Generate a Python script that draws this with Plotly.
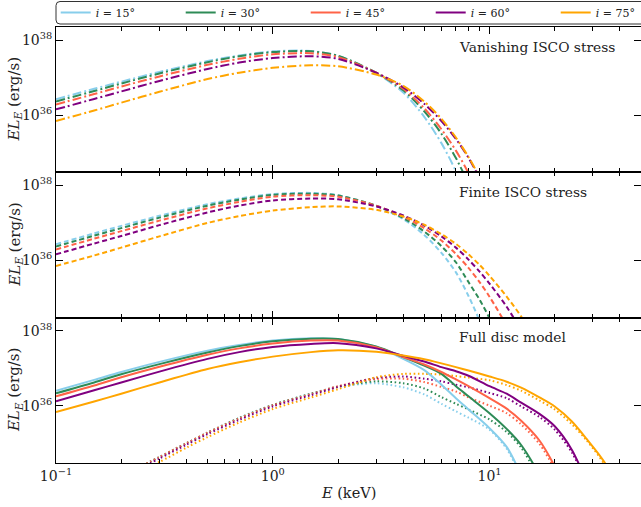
import numpy as np
import plotly.graph_objects as go
from plotly.subplots import make_subplots

# ---------------------------------------------------------------------------
# Data: log10(E L_E / erg s^-1) versus photon energy E (keV)
# ---------------------------------------------------------------------------
inclinations = [15, 30, 45, 60, 75]
colors = ["#87CEEB", "#2E8B57", "#FF6347", "#800080", "#FFA500"]

# Panel 1: vanishing ISCO stress
energy_vanishing = [0.1, 0.15, 0.2, 0.3, 0.5, 0.7, 1.0, 1.5, 2.0, 3.0, 4.0, 5.0, 6.0, 7.0, 8.0, 9.0]
vanishing_i15 = [36.42, 36.70, 36.89, 37.15, 37.44, 37.59, 37.70, 37.71, 37.58, 37.12, 36.60, 35.95, 35.25, 34.50, 33.70, None]
vanishing_i30 = [36.36, 36.64, 36.84, 37.11, 37.41, 37.57, 37.68, 37.70, 37.58, 37.13, 36.66, 36.10, 35.50, 34.85, 34.17, None]
vanishing_i45 = [36.28, 36.56, 36.76, 37.03, 37.34, 37.50, 37.62, 37.65, 37.55, 37.13, 36.70, 36.18, 35.62, 35.05, 34.45, 33.80]
vanishing_i60 = [36.15, 36.43, 36.63, 36.91, 37.23, 37.40, 37.52, 37.57, 37.50, 37.13, 36.74, 36.30, 35.84, 35.36, 34.86, 34.32]
vanishing_i75 = [35.84, 36.12, 36.33, 36.62, 36.96, 37.13, 37.26, 37.33, 37.30, 37.08, 36.78, 36.36, 35.90, 35.40, 34.88, 34.35]

# Panel 2: finite ISCO stress
energy_finite = [0.1, 0.15, 0.2, 0.3, 0.5, 0.7, 1.0, 1.5, 2.0, 3.0, 4.0, 5.0, 6.0, 7.0, 8.0, 9.0, 10.0, 12.0, 14.0, 16.0]
finite_i15 = [36.43, 36.72, 36.92, 37.19, 37.50, 37.65, 37.77, 37.80, 37.74, 37.45, 37.10, 36.68, 36.20, 35.68, 35.05, 34.38, 33.60, None, None, None]
finite_i30 = [36.37, 36.66, 36.86, 37.14, 37.46, 37.62, 37.75, 37.78, 37.73, 37.46, 37.13, 36.77, 36.38, 35.95, 35.42, 34.95, 34.45, 33.30, None, None]
finite_i45 = [36.29, 36.58, 36.78, 37.06, 37.39, 37.56, 37.70, 37.74, 37.70, 37.46, 37.17, 36.86, 36.53, 36.17, 35.80, 35.42, 35.03, 34.25, 33.40, None]
finite_i60 = [36.16, 36.45, 36.65, 36.94, 37.28, 37.46, 37.60, 37.65, 37.63, 37.44, 37.20, 36.93, 36.64, 36.34, 36.02, 35.70, 35.38, 34.76, 34.12, 33.40]
finite_i75 = [35.85, 36.13, 36.34, 36.64, 37.00, 37.18, 37.33, 37.42, 37.44, 37.35, 37.17, 36.95, 36.70, 36.44, 36.16, 35.88, 35.59, 35.03, 34.50, 33.90]

# Panel 3: full disc model (solid) and plunging-region contribution (dotted)
energy_full = [0.1, 0.15, 0.2, 0.3, 0.5, 0.7, 1.0, 1.5, 2.0, 3.0, 4.0, 5.0, 6.0, 7.0, 8.0, 10.0, 12.0, 14.0, 17.0, 20.0, 24.0, 28.0, 34.0, 40.0]
full_i15 = [36.40, 36.69, 36.90, 37.17, 37.47, 37.62, 37.74, 37.80, 37.78, 37.57, 37.25, 36.95, 36.56, 36.20, 35.90, 35.40, 34.90, 34.15, None, None, None, None, None, None]
full_i30 = [36.33, 36.62, 36.84, 37.11, 37.42, 37.59, 37.72, 37.79, 37.78, 37.58, 37.30, 37.07, 36.85, 36.52, 36.25, 35.80, 35.38, 34.95, 34.15, 33.30, None, None, None, None]
full_i45 = [36.25, 36.54, 36.76, 37.04, 37.36, 37.53, 37.66, 37.74, 37.74, 37.56, 37.30, 37.10, 36.90, 36.70, 36.52, 36.20, 35.92, 35.60, 35.07, 34.38, 33.40, None, None, None]
full_i60 = [36.12, 36.41, 36.62, 36.91, 37.25, 37.43, 37.57, 37.65, 37.67, 37.53, 37.33, 37.18, 37.03, 36.92, 36.80, 36.52, 36.32, 36.08, 35.78, 35.45, 34.82, 33.98, None, None]
full_i75 = [35.83, 36.11, 36.32, 36.62, 36.98, 37.16, 37.31, 37.43, 37.48, 37.44, 37.34, 37.24, 37.13, 37.03, 36.94, 36.78, 36.64, 36.48, 36.22, 35.98, 35.58, 35.12, 34.48, 33.60]

energy_plunge = [0.25, 0.3, 0.4, 0.5, 0.7, 1.0, 1.5, 2.0, 2.5, 3.0, 4.0, 5.0, 6.0, 7.0, 8.0, 10.0, 12.0, 14.0, 17.0, 20.0, 24.0, 28.0, 34.0, 40.0]
plunge_i15 = [34.40, 34.63, 35.00, 35.28, 35.67, 36.02, 36.32, 36.50, 36.57, 36.60, 36.49, 36.30, 36.05, 35.85, 35.68, 35.36, 34.85, 34.10, None, None, None, None, None, None]
plunge_i30 = [34.40, 34.63, 35.00, 35.28, 35.67, 36.02, 36.32, 36.51, 36.60, 36.65, 36.60, 36.46, 36.23, 36.05, 35.90, 35.63, 35.30, 34.88, 34.05, None, None, None, None, None]
plunge_i45 = [34.40, 34.63, 35.00, 35.28, 35.66, 36.01, 36.31, 36.52, 36.64, 36.71, 36.72, 36.63, 36.50, 36.38, 36.22, 36.00, 35.80, 35.50, 34.98, 34.30, 33.35, None, None, None]
plunge_i60 = [34.36, 34.59, 34.96, 35.24, 35.62, 35.98, 36.28, 36.50, 36.65, 36.74, 36.78, 36.72, 36.65, 36.56, 36.49, 36.34, 36.20, 35.98, 35.70, 35.36, 34.75, 33.95, None, None]
plunge_i75 = [34.30, 34.50, 34.88, 35.16, 35.55, 35.91, 36.22, 36.44, 36.62, 36.76, 36.85, 36.85, 36.83, 36.79, 36.75, 36.68, 36.55, 36.40, 36.14, 35.90, 35.50, 35.08, 34.42, 33.50]

panel_titles = ["Vanishing ISCO stress", "Finite ISCO stress", "Full disc model"]
x_tickvals = [0.1, 1.0, 10.0]
x_ticktext = ["10<sup>\u22121</sup>", "10<sup>0</sup>", "10<sup>1</sup>"]
y_tickvals = [1e36, 1e38]
y_ticktext = ["10<sup>36</sup>", "10<sup>38</sup>"]

# ---------------------------------------------------------------------------
FONT = "DejaVu Serif"
TXT = "#222222"
LW = 2.0
DASHDOT = "9px,3px,2px,3px"
DASHED = "5px,3px"
DOTTED = "1.6px,2.6px"


def lum(values):
    return [None if v is None else 10.0 ** v for v in values]


fig = make_subplots(rows=3, cols=1, shared_xaxes=True, vertical_spacing=0)

panels = [
    (1, energy_vanishing, [vanishing_i15, vanishing_i30, vanishing_i45, vanishing_i60, vanishing_i75], DASHDOT, False),
    (2, energy_finite, [finite_i15, finite_i30, finite_i45, finite_i60, finite_i75], DASHED, False),
    (3, energy_plunge, [plunge_i15, plunge_i30, plunge_i45, plunge_i60, plunge_i75], DOTTED, False),
    (3, energy_full, [full_i15, full_i30, full_i45, full_i60, full_i75], "solid", True),
]

for row, energy, series, dash, legend in panels:
    for inc, col, vals in zip(inclinations, colors, series):
        fig.add_trace(
            go.Scatter(
                x=energy,
                y=lum(vals),
                mode="lines",
                line=dict(color=col, width=LW, dash=dash, shape="spline", smoothing=0.8),
                name=f"<i>i</i> = {inc}\u00b0",
                showlegend=legend,
                connectgaps=False,
                hoverinfo="skip",
            ),
            row=row,
            col=1,
        )

minor_x = [m * 10.0 ** d for d in (-1, 0, 1) for m in range(2, 10) if m * 10.0 ** d <= 50]

for r in (1, 2, 3):
    fig.update_xaxes(
        type="log",
        range=[-1, np.log10(50)],
        showline=True, linecolor="black", linewidth=1, mirror="ticks",
        ticks="inside", ticklen=7, tickwidth=1, tickcolor="black",
        tickvals=x_tickvals, ticktext=x_ticktext,
        minor=dict(ticks="inside", ticklen=4, tickwidth=1, tickcolor="black", tickvals=minor_x, showgrid=False),
        showgrid=False, zeroline=False,
        tickfont=dict(family=FONT, size=14, color=TXT),
        showticklabels=(r == 3),
        row=r, col=1,
    )
    fig.update_yaxes(
        type="log",
        range=[34.47, 38.35],
        showline=True, linecolor="black", linewidth=1, mirror="ticks",
        ticks="inside", ticklen=7, tickwidth=1, tickcolor="black",
        tickvals=y_tickvals, ticktext=y_ticktext,
        showgrid=False, zeroline=False,
        tickfont=dict(family=FONT, size=14, color=TXT),
        row=r, col=1,
    )

annotations = []
for r, title in zip((1, 2, 3), panel_titles):
    yref = "y domain" if r == 1 else f"y{r} domain"
    annotations.append(dict(
        text=title, xref="paper", yref=yref, x=0.6855, y=0.865,
        xanchor="left", yanchor="middle", showarrow=False,
        font=dict(family=FONT, size=13.8, color=TXT),
    ))
    annotations.append(dict(
        text="<i>EL<sub>E</sub></i> (erg/s)", xref="paper", yref=yref, x=-0.0705, y=0.5,
        xanchor="center", yanchor="middle", textangle=-90, showarrow=False,
        font=dict(family=FONT, size=15, color=TXT),
    ))
annotations.append(dict(
    text="<i>E</i> (keV)", xref="paper", yref="paper", x=0.5, y=-0.068,
    xanchor="center", yanchor="middle", showarrow=False,
    font=dict(family=FONT, size=14.5, color=TXT),
))

# rounded frame around the legend
W_PLOT, H_PLOT, LEFT, BOTTOM = 585.0, 436.0, 56.0, 463.0
def px(x):
    return (x - LEFT) / W_PLOT
def py(y):
    return (BOTTOM - y) / H_PLOT
rad = 4.0
x0, x1, y0, y1 = 56.0, 680.0, 1.5, 24.0
path = (
    f"M {px(x0 + rad)},{py(y0)} L {px(x1)},{py(y0)} L {px(x1)},{py(y1)} "
    f"L {px(x0 + rad)},{py(y1)} Q {px(x0)},{py(y1)} {px(x0)},{py(y1 - rad)} "
    f"L {px(x0)},{py(y0 + rad)} Q {px(x0)},{py(y0)} {px(x0 + rad)},{py(y0)} Z"
)

fig.update_layout(
    width=641, height=507,
    margin=dict(l=56, r=0, t=27, b=44, autoexpand=False),
    paper_bgcolor="white", plot_bgcolor="white",
    annotations=annotations,
    shapes=[dict(type="path", path=path, xref="paper", yref="paper",
                 line=dict(color="#333333", width=1), fillcolor="rgba(0,0,0,0)")],
    legend=dict(
        orientation="h", x=-0.0005, y=1, xanchor="left", yanchor="bottom",
        bgcolor="rgba(0,0,0,0)", borderwidth=0,
        font=dict(family=FONT, size=11, color=TXT),
        entrywidth=80, entrywidthmode="pixels",
        itemwidth=30, tracegroupgap=0,
    ),
)

fig.write_html("out.html")
